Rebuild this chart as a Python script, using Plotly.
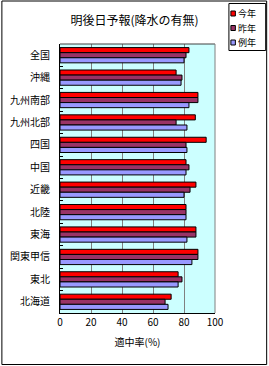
import plotly.graph_objects as go

categories = ["全国", "沖縄", "九州南部", "九州北部", "四国", "中国", "近畿", "北陸", "東海", "関東甲信", "東北", "北海道"]
this_year = [83.2, 74.9, 89.0, 87.3, 94.3, 81.3, 87.7, 81.3, 87.7, 89.0, 76.2, 71.7]
last_year = [81.3, 78.7, 89.0, 74.9, 81.3, 83.2, 83.9, 81.3, 87.7, 89.0, 78.7, 67.8]
normal_year = [80.0, 78.1, 83.2, 81.9, 81.9, 81.3, 80.0, 81.3, 81.9, 85.1, 76.2, 69.7]
series_names = ["今年", "昨年", "例年"]
colors = ["#FF0000", "#993366", "#9999FF"]

FONT = "Noto Sans CJK JP"
fig = go.Figure()
for name, vals, c in zip(series_names, [this_year, last_year, normal_year], colors):
    fig.add_trace(go.Bar(
        y=categories, x=vals, name=name, orientation="h",
        marker=dict(color=c, line=dict(color="black", width=1)),
        showlegend=False,
    ))

W, H = 269, 366
L, R, T, B = 59.5, 215.5, 44, 313
pw, ph = R - L, B - T

def px(x):
    return (x - L) / pw

def py(y):
    return (B - y) / ph

shapes = [dict(type="rect", xref="paper", yref="paper",
               x0=px(1), x1=px(267.5), y0=py(364.5), y1=py(1),
               line=dict(color="black", width=1), fillcolor="rgba(0,0,0,0)", layer="below"),
          dict(type="line", xref="paper", yref="paper", x0=0, x1=1, y0=1, y1=1,
               line=dict(color="#404040", width=1)),
          dict(type="line", xref="paper", yref="paper", x0=1, x1=1, y0=0, y1=1,
               line=dict(color="#808080", width=1)),
          dict(type="rect", xref="paper", yref="paper",
               x0=px(229.5), x1=px(266.5), y0=py(50.5), y1=py(3.5),
               line=dict(color="black", width=1), fillcolor="white")]
annotations = []
legend_rows = [13.5, 28, 42.5]
for name, c, yy in zip(series_names, colors, legend_rows):
    shapes.append(dict(type="rect", xref="paper", yref="paper",
                       x0=px(231.5), x1=px(236), y0=py(yy + 2.5), y1=py(yy - 2.5),
                       line=dict(color="black", width=1), fillcolor=c))
    annotations.append(dict(text=name, xref="paper", yref="paper", x=px(237), y=py(yy),
                            xanchor="left", yanchor="middle", showarrow=False,
                            font=dict(size=9, family=FONT, color="black")))

fig.update_layout(
    width=W, height=H,
    margin=dict(l=L, r=W - R, t=T, b=H - B, autoexpand=False),
    paper_bgcolor="white",
    plot_bgcolor="#CCFFFF",
    barmode="group",
    bargap=0.32,
    bargroupgap=0,
    font=dict(family=FONT, color="black", size=10),
    title=dict(text="明後日予報(降水の有無)", x=134.5 / W, xref="container", xanchor="center",
               y=1 - 20.7 / H, yref="container", yanchor="middle",
               font=dict(family=FONT, size=12, color="black")),
    showlegend=False,
    xaxis=dict(range=[0, 100], tickvals=[0, 20, 40, 60, 80, 100],
               showgrid=True, gridcolor="#808080", gridwidth=1,
               showline=True, linecolor="black", linewidth=1, mirror=False,
               ticks="", zeroline=False, fixedrange=True,
               tickfont=dict(size=10, family=FONT),
               title=dict(text="適中率(%)", font=dict(size=10, family=FONT), standoff=10)),
    yaxis=dict(autorange="reversed", type="category",
               showline=True, linecolor="black", linewidth=1,
               ticks="inside", ticklen=3, tickcolor="black", tickson="boundaries",
               ticklabelstandoff=7,
               showgrid=False, fixedrange=True,
               tickfont=dict(size=10, family=FONT)),
    shapes=shapes,
    annotations=annotations,
)

fig.write_html("out.html", config={"displayModeBar": False})
